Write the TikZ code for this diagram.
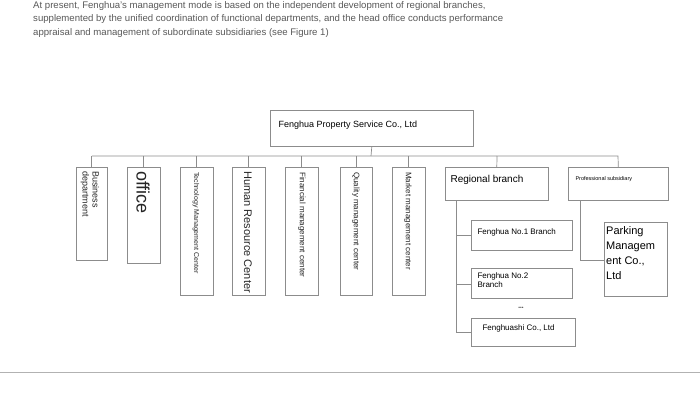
\documentclass[tikz,border=0pt]{standalone}
\usepackage{fontspec}
\setmainfont{Liberation Sans}
\begin{document}
\begin{tikzpicture}[x=1pt,y=-1pt,
  box/.style={draw=black!45,line width=0.6pt,inner sep=0pt},
  conn/.style={draw=black!45,line width=0.7pt},
  vt/.style={rotate=-90,anchor=west,inner sep=0pt,align=left,text=black!85}]
\useasboundingbox[fill=white] (0,0) rectangle (700,401);
\node[anchor=north west,align=left,text=black!65,font=\fontsize{9.6}{13.5}\selectfont,inner sep=0pt] (intro) at (33,1)
{At present, Fenghua's management mode is based on the independent development of regional branches,\\
supplemented by the unified coordination of functional departments, and the head office conducts performance\\
appraisal and management of subordinate subsidiaries (see Figure 1)};
\draw[draw=black!30,line width=0.8pt] (0,372) -- (700,372);
% top
\node[box,minimum width=203pt,minimum height=36pt,anchor=north west] (top) at (270,110) {};
\node[anchor=west,font=\fontsize{9}{10}\selectfont] (topt) at (275,125) {Fenghua Property Service Co., Ltd};
\coordinate (bus) at (371,156);
% vertical boxes
\foreach \n/\a/\b/\c in {bd/76/107/260, of/127/160/263, tm/180/213/295, hr/232/265/295, fm/285/318/295, qm/340/372/295, mm/392/425/295}{
  \node[box,minimum width={\b-\a},minimum height={\c-167},anchor=north west] (\n) at (\a,167) {};
  \draw[conn] (\n.north) -- (\n.north |- bus);
}
\node[vt,font=\fontsize{9}{10}\selectfont] at (90,171) {Business\\department};
\node[vt,font=\fontsize{18}{18}\selectfont] at (143,171) {office};
\node[vt,font=\fontsize{7}{7}\selectfont] at (196,172) {Technology Management Center};
\node[vt,font=\fontsize{11}{11}\selectfont] at (248,171) {Human Resource Center};
\node[vt,font=\fontsize{8}{8}\selectfont] at (302,172) {Financial management center};
\node[vt,font=\fontsize{8}{8}\selectfont] at (356,172) {Quality management center};
\node[vt,font=\fontsize{8}{8}\selectfont] at (408,172) {Market management center};
% right boxes
\node[box,minimum width=103pt,minimum height=33pt,anchor=north west] (rb) at (445,167) {};
\node[anchor=west,font=\fontsize{10}{11}\selectfont] at (447,180) {Regional branch};
\node[box,minimum width=100pt,minimum height=33pt,anchor=north west] (ps) at (568,167) {};
\node[anchor=west,font=\fontsize{5.5}{6}\selectfont] at (572,179) {Professional subsidiary};
\draw[conn] (top.south) -- (bus);
\draw[conn] (bd.north |- bus) -- (618,156) -- (ps.north);
\draw[conn] (497,156) -- (rb.north);
% branches
\node[box,minimum width=101pt,minimum height=30pt,anchor=north west] (b1) at (471,220) {};
\node[anchor=west,font=\fontsize{8}{9}\selectfont] at (474,232) {Fenghua No.1 Branch};
\node[box,minimum width=101pt,minimum height=30pt,anchor=north west] (b2) at (471,268) {};
\node[anchor=west,align=left,font=\fontsize{8}{5.5}\selectfont] at (474,280) {Fenghua No.2\\Branch};
\node[font=\fontsize{5}{6}\selectfont,text=black!70] (dots) at (521,308) {\textbullet\textbullet\textbullet};
\node[box,minimum width=104pt,minimum height=28pt,anchor=north west] (b3) at (471,318) {};
\node[anchor=west,font=\fontsize{8}{9}\selectfont] at (479,328) {Fenghuashi Co., Ltd};
\draw[conn] (456,200) -- (456,332) -- (b3.west |- 456,332);
\draw[conn] (456,235) -- (b1.west |- 456,235);
\draw[conn] (456,284) -- (b2.west |- 456,284);
\node[box,minimum width=63pt,minimum height=74pt,anchor=north west] (pk) at (604,222) {};
\node[anchor=north west,align=left,font=\fontsize{11}{15}\selectfont,inner sep=0pt] at (606,226) {Parking\\Managem\\ent Co.,\\Ltd};
\draw[conn] (580,200) -- (580,260) -- (pk.west |- 580,260);
\end{tikzpicture}
\end{document}
